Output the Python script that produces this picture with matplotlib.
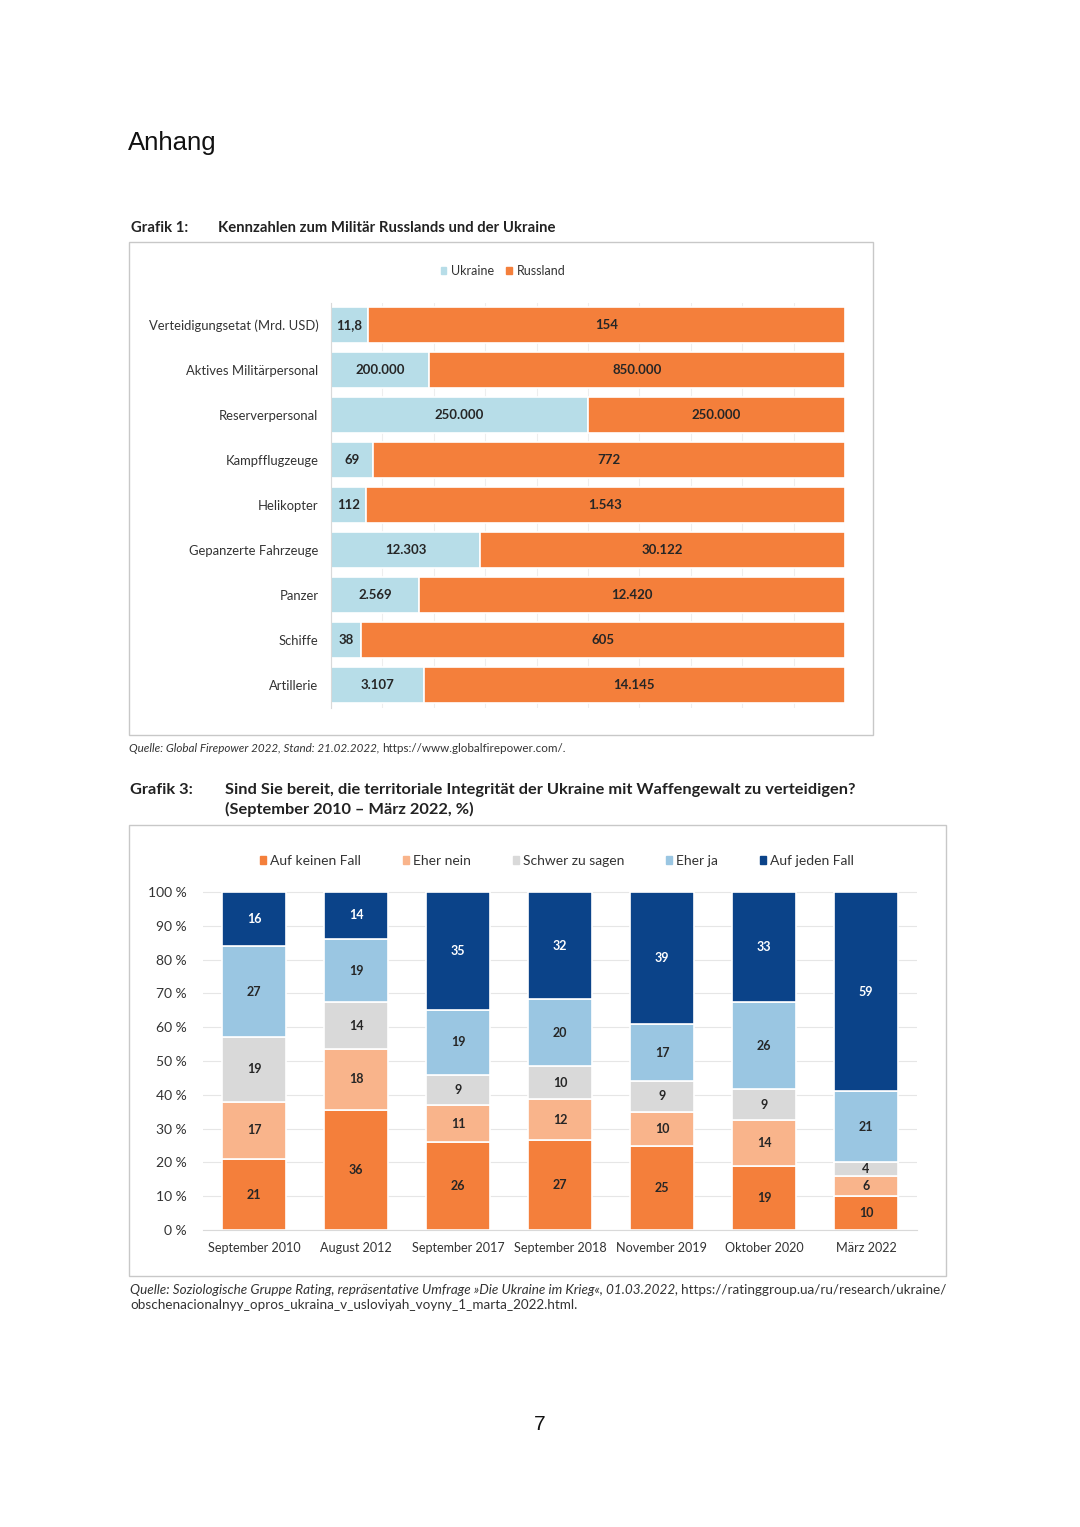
import matplotlib
matplotlib.use("Agg")
import matplotlib.pyplot as plt
from matplotlib.patches import Rectangle
import numpy as np

W, H = 1080, 1527

# ---------- data: Grafik 1 ----------
cats1 = ["Verteidigungsetat (Mrd. USD)", "Aktives Militärpersonal", "Reserverpersonal",
         "Kampfflugzeuge", "Helikopter", "Gepanzerte Fahrzeuge", "Panzer", "Schiffe", "Artillerie"]
ukraine = [11.8, 200000, 250000, 69, 112, 12303, 2569, 38, 3107]
russland = [154, 850000, 250000, 772, 1543, 30122, 12420, 605, 14145]
ukraine_lbl = ["11,8", "200.000", "250.000", "69", "112", "12.303", "2.569", "38", "3.107"]
russland_lbl = ["154", "850.000", "250.000", "772", "1.543", "30.122", "12.420", "605", "14.145"]

# ---------- data: Grafik 3 ----------
dates = ["September 2010", "August 2012", "September 2017", "September 2018",
         "November 2019", "Oktober 2020", "März 2022"]
series_names = ["Auf keinen Fall", "Eher nein", "Schwer zu sagen", "Eher ja", "Auf jeden Fall"]
auf_keinen_fall = [21, 36, 26, 27, 25, 19, 10]
eher_nein = [17, 18, 11, 12, 10, 14, 6]
schwer_zu_sagen = [19, 14, 9, 10, 9, 9, 4]
eher_ja = [27, 19, 19, 20, 17, 26, 21]
auf_jeden_fall = [16, 14, 35, 32, 39, 33, 59]
yticks3 = [0, 10, 20, 30, 40, 50, 60, 70, 80, 90, 100]

C_UKR = "#B7DDE8"
C_RUS = "#F47F3B"
colors3 = ["#F47F3B", "#F9B48B", "#D9D9D9", "#9AC6E2", "#0B4389"]
TXT = "#262626"

fig = plt.figure(figsize=(W / 100, H / 100), dpi=100)
fig.patch.set_facecolor("white")
renderer = fig.canvas.get_renderer()

FONT = "Lato"

def fx(x):
    return x / W

def fy(y):
    return 1 - y / H

def axes_px(x0, y0, x1, y1):
    return fig.add_axes([fx(x0), fy(y1), (x1 - x0) / W, (y1 - y0) / H])

def text_pair(x, y, t1, t2, size, style1="italic", style2="normal"):
    a = fig.text(fx(x), fy(y), t1, fontsize=size, family=FONT, style=style1, va="center", color="#333333")
    bb = a.get_window_extent(renderer=renderer)
    fig.text(bb.x1 / W, fy(y), t2, fontsize=size, family=FONT, style=style2, va="center", color="#333333")

# page text
fig.text(fx(128), fy(143), "Anhang", fontsize=18.5, family="Liberation Sans", va="center", ha="left", color="#111111")
fig.text(fx(540), fy(1425), "7", fontsize=15, family="Liberation Sans", va="center", ha="center", color="#111111")

fig.text(fx(131), fy(228), "Grafik 1:", fontsize=10.7, family=FONT, weight="bold", va="center", color="#222222")
fig.text(fx(218), fy(228), "Kennzahlen zum Militär Russlands und der Ukraine", fontsize=10.7, family=FONT,
         weight="bold", va="center", color="#222222")

# frames
for (x0, y0, x1, y1) in [(129, 242, 873, 735), (129, 825, 946, 1276)]:
    fig.add_artist(Rectangle((fx(x0), fy(y1)), (x1 - x0) / W, (y1 - y0) / H, transform=fig.transFigure,
                             fill=False, edgecolor="#C8C8C8", linewidth=1.0))

# ---------- Grafik 1 ----------
ax1 = axes_px(331, 302.5, 845, 707.5)
n1 = len(cats1)
ypos = np.arange(n1)
u = np.array(ukraine, dtype=float)
r = np.array(russland, dtype=float)
tot = u + r
uf = u / tot
rf = r / tot
ax1.barh(ypos, uf, height=0.8, color=C_UKR, edgecolor="white", linewidth=1.2, zorder=2)
ax1.barh(ypos, rf, left=uf, height=0.8, color=C_RUS, edgecolor="white", linewidth=1.2, zorder=2)
for i in range(n1):
    ax1.text(uf[i] / 2, i, ukraine_lbl[i], ha="center", va="center", fontsize=9.5, family=FONT,
             weight="bold", color=TXT, zorder=3)
    ax1.text(uf[i] + rf[i] / 2, i, russland_lbl[i], ha="center", va="center", fontsize=9.5, family=FONT,
             weight="bold", color=TXT, zorder=3)
ax1.set_xlim(0, 1)
ax1.set_ylim(n1 - 0.5, -0.5)
ax1.set_yticks(ypos)
ax1.set_yticklabels(cats1, fontsize=9.4, family=FONT, color="#333333")
ax1.tick_params(axis="y", length=0, pad=9)
ax1.set_xticks(np.arange(0, 1.01, 0.1))
ax1.tick_params(axis="x", length=0, labelbottom=False)
ax1.grid(axis="x", color="#EEEEEE", linewidth=0.8, zorder=0)
for s in ["top", "right", "bottom"]:
    ax1.spines[s].set_visible(False)
ax1.spines["left"].set_color("#D9D9D9")
ax1.set_axisbelow(True)

# legend 1
lh = [Rectangle((0, 0), 1, 1, color=C_UKR), Rectangle((0, 0), 1, 1, color=C_RUS)]
fig.legend(lh, ["Ukraine", "Russland"], loc="center", bbox_to_anchor=(fx(503), fy(271)), ncol=2,
           frameon=False, prop={"family": FONT, "size": 9}, handlelength=0.45, handleheight=0.45,
           handletextpad=0.35, columnspacing=1.0, labelcolor="#333333")

text_pair(129, 748, "Quelle: Global Firepower 2022, Stand: 21.02.2022, ",
          "https://www.globalfirepower.com/.", 8.4)

# ---------- Grafik 3 ----------
fig.text(fx(130), fy(790), "Grafik 3:", fontsize=11.8, family=FONT, weight="bold", va="center", color="#222222")
fig.text(fx(225), fy(790), "Sind Sie bereit, die territoriale Integrität der Ukraine mit Waffengewalt zu verteidigen?",
         fontsize=11.8, family=FONT, weight="bold", va="center", color="#222222")
fig.text(fx(225), fy(809), "(September 2010 – März 2022, %)", fontsize=11.8, family=FONT, weight="bold",
         va="center", color="#222222")

ax3 = axes_px(203, 891, 917, 1230)
data3 = np.array([auf_keinen_fall, eher_nein, schwer_zu_sagen, eher_ja, auf_jeden_fall], dtype=float)
pct = data3 / data3.sum(axis=0) * 100
xpos = np.arange(len(dates))
bottom = np.zeros(len(dates))
for k in range(len(series_names)):
    ax3.bar(xpos, pct[k], bottom=bottom, width=0.62, color=colors3[k], edgecolor="white",
            linewidth=1.2, zorder=2, label=series_names[k])
    for j in range(len(dates)):
        ax3.text(xpos[j], bottom[j] + pct[k][j] / 2, str(int(data3[k][j])), ha="center", va="center",
                 fontsize=9, family=FONT, weight="bold",
                 color="white" if k == 4 else TXT, zorder=3)
    bottom += pct[k]
ax3.set_xlim(-0.5, len(dates) - 0.5)
ax3.set_ylim(0, 100.3)
ax3.set_yticks(yticks3)
ax3.set_yticklabels([f"{v} %" for v in yticks3], fontsize=10, family=FONT, color="#333333")
ax3.tick_params(axis="y", length=0, pad=12)
ax3.set_xticks(xpos)
ax3.set_xticklabels(dates, fontsize=9.1, family=FONT, color="#333333")
ax3.tick_params(axis="x", length=0, pad=9)
ax3.grid(axis="y", color="#E6E6E6", linewidth=0.8, zorder=0)
for s in ["top", "right", "left"]:
    ax3.spines[s].set_visible(False)
ax3.spines["bottom"].set_color("#D9D9D9")
ax3.set_axisbelow(True)

lh3 = [Rectangle((0, 0), 1, 1, color=c) for c in colors3]
fig.legend(lh3, series_names, loc="center", bbox_to_anchor=(fx(557), fy(861)), ncol=5, frameon=False,
           prop={"family": FONT, "size": 10}, handlelength=0.45, handleheight=0.45, handletextpad=0.3,
           columnspacing=3.0, labelcolor="#333333")

text_pair(130, 1290, "Quelle: Soziologische Gruppe Rating, repräsentative Umfrage »Die Ukraine im Krieg«, 01.03.2022, ",
          "https://ratinggroup.ua/ru/research/ukraine/", 9.75)
fig.text(fx(130), fy(1305), "obschenacionalnyy_opros_ukraina_v_usloviyah_voyny_1_marta_2022.html.", fontsize=9.75,
         family=FONT, va="center", color="#333333")

fig.savefig("out.png", dpi=100, facecolor="white")
